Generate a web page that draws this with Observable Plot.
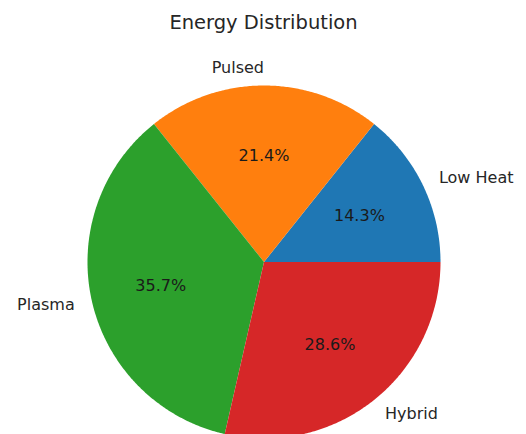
<!DOCTYPE html>
<html>
<head>
<meta charset="utf-8">
<script src="https://cdn.jsdelivr.net/npm/d3@7"></script>
<script src="https://cdn.jsdelivr.net/npm/@observablehq/plot@0.6"></script>
<style>
  html, body { margin: 0; padding: 0; background: #fff; }
  svg { font-family: "DejaVu Sans", sans-serif; }
</style>
</head>
<body>
<div id="chart"></div>
<script>
const title = "Energy Distribution";
const labels = ["Low Heat", "Pulsed", "Plasma", "Hybrid"];
const values = [2, 3, 5, 4];
const colors = ["#1f77b4", "#ff7f0e", "#2ca02c", "#d62728"];

const W = 526, H = 434;
const cx = 263.5, cy = 261.5, R = 176.5;

const total = d3.sum(values);
const wedges = [];
const labelRows = [];
const pctRows = [];
let cum = 0;
labels.forEach((lab, i) => {
  const a0 = 2 * Math.PI * cum / total;
  cum += values[i];
  const a1 = 2 * Math.PI * cum / total;
  const steps = Math.max(2, Math.ceil((a1 - a0) / (Math.PI / 360)));
  wedges.push({label: lab, x: 0, y: 0});
  for (let k = 0; k <= steps; k++) {
    const a = a0 + (a1 - a0) * k / steps;
    wedges.push({label: lab, x: Math.cos(a), y: Math.sin(a)});
  }
  const am = (a0 + a1) / 2;
  const lx = 1.1 * Math.cos(am), ly = 1.1 * Math.sin(am);
  labelRows.push({label: lab, x: lx, y: ly, anchor: lx > 1e-6 ? "start" : "end"});
  pctRows.push({text: (100 * values[i] / total).toFixed(1) + "%", x: 0.6 * Math.cos(am), y: 0.6 * Math.sin(am)});
});

const chart = Plot.plot({
  width: W,
  height: H,
  margin: 0,
  x: {domain: [-cx / R, (W - cx) / R], range: [0, W], axis: null},
  y: {domain: [-(H - cy) / R, cy / R], range: [H, 0], axis: null},
  color: {domain: labels, range: colors},
  marks: [
    Plot.line(wedges, {x: "x", y: "y", z: "label", fill: "label", stroke: "none", curve: "linear"}),
    Plot.text(pctRows, {x: "x", y: "y", text: "text", fontSize: 16, fill: "#1a1a1a", textAnchor: "middle", lineAnchor: "middle"}),
    Plot.text(labelRows.filter(d => d.anchor === "start"), {x: "x", y: "y", text: "label", fontSize: 16, fill: "#262626", textAnchor: "start", lineAnchor: "middle"}),
    Plot.text(labelRows.filter(d => d.anchor === "end"), {x: "x", y: "y", text: "label", fontSize: 16, fill: "#262626", textAnchor: "end", lineAnchor: "middle"}),
    Plot.text([title], {frameAnchor: "top", dy: 15, fontSize: 19.5, fill: "#262626", lineAnchor: "top"})
  ]
});
document.getElementById("chart").appendChild(chart);
</script>
</body>
</html>
